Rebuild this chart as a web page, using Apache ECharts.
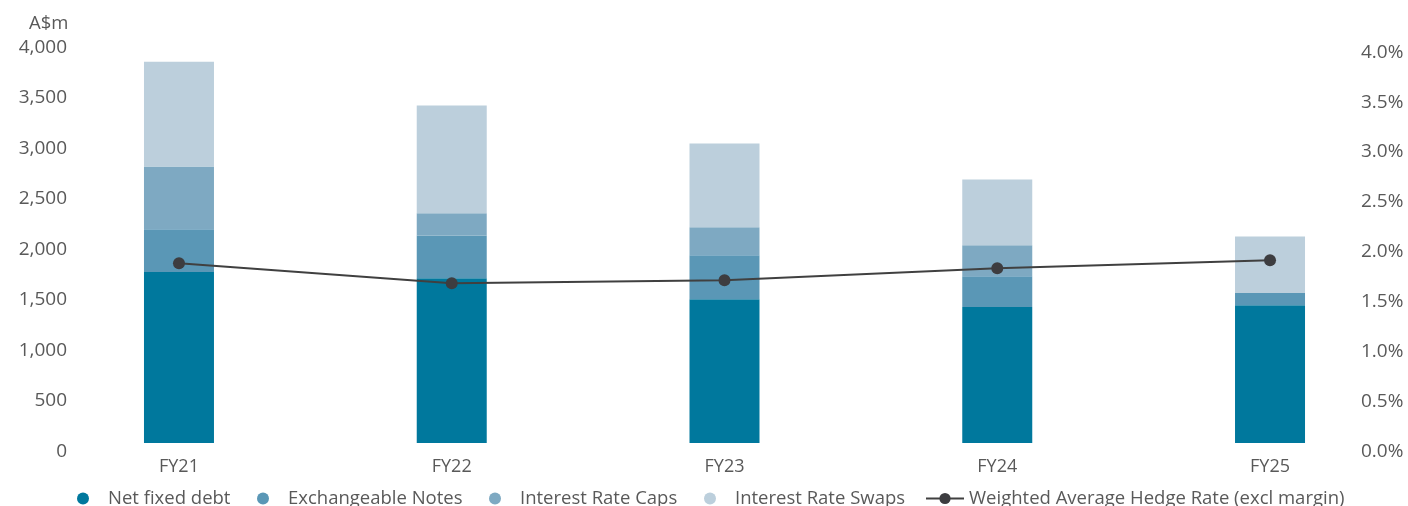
<!DOCTYPE html>
<html>
<head>
<meta charset="utf-8">
<script src="https://cdn.jsdelivr.net/npm/echarts@6/dist/echarts.min.js"></script>
<style>
html,body{margin:0;padding:0;background:#fff;}
#chart{width:1408px;height:506px;}
</style>
</head>
<body>
<div id="chart"></div>
<script>
const categories = ['FY21', 'FY22', 'FY23', 'FY24', 'FY25'];
const netFixedDebt = [1692, 1630, 1422, 1346, 1363];
const exchangeableNotes = [422, 424, 435, 303, 121];
const interestRateCaps = [622, 218, 277, 307, 0];
const interestRateSwaps = [1037, 1067, 830, 651, 560];
const hedgeRate = [1.80, 1.60, 1.63, 1.75, 1.83];
const leftTicks = [0, 4000, 500];
const rightTicks = [0, 4.05, 0.5];

const FONT = 'Open Sans';
const TXT = '#595959';
const colors = ['#00789d', '#5a97b6', '#7ea9c2', '#bccfdc', '#3d3d40'];

const chart = echarts.init(document.getElementById('chart'), null, {renderer: 'canvas'});

function legendFor(name, left, opts) {
  return Object.assign({
    data: [name],
    left: left,
    top: 489,
    icon: 'circle',
    itemWidth: 12,
    itemHeight: 12,
    padding: 0,
    textStyle: {fontFamily: FONT, fontSize: 18.5, color: TXT, padding: [0, 0, 0, 14]}
  }, opts || {});
}

const option = {
  animation: false,
  backgroundColor: '#fff',
  title: {
    text: 'A$m', left: 24, top: 9,
    textStyle: {fontFamily: FONT, fontSize: 18.5, fontWeight: 'normal', color: TXT}
  },
  grid: {left: 42.6, right: 1.6, top: 38.7, bottom: 63, containLabel: false},
  legend: [
    legendFor('Net fixed debt', 77),
    legendFor('Exchangeable Notes', 257),
    legendFor('Interest Rate Caps', 489),
    legendFor('Interest Rate Swaps', 704),
    legendFor('Weighted Average Hedge Rate (excl margin)', 925, {
      icon: null, itemWidth: 38, itemHeight: 14,
      textStyle: {fontFamily: FONT, fontSize: 18.5, color: TXT, padding: [0, 0, 0, 0]}
    })
  ],
  xAxis: {
    type: 'category',
    data: categories,
    axisLine: {show: false},
    axisTick: {show: false},
    axisLabel: {fontFamily: FONT, fontSize: 18, color: TXT, margin: 15}
  },
  yAxis: [
    {
      type: 'value',
      min: leftTicks[0], max: leftTicks[1], interval: leftTicks[2],
      offset: -24.4,
      splitLine: {show: false},
      axisLine: {show: false},
      axisTick: {show: false},
      axisLabel: {
        fontFamily: FONT, fontSize: 19, color: TXT, margin: 0,
        verticalAlign: 'top', lineHeight: 17,
        formatter: v => v.toLocaleString('en-US')
      }
    },
    {
      type: 'value',
      position: 'right',
      min: rightTicks[0], max: rightTicks[1], interval: rightTicks[2],
      splitLine: {show: false},
      axisLine: {show: false},
      axisTick: {show: false},
      axisLabel: {
        inside: true, margin: 3,
        fontFamily: FONT, fontSize: 19, color: TXT,
        verticalAlign: 'top', lineHeight: 17,
        formatter: v => (Math.abs(v * 2 - Math.round(v * 2)) < 1e-6) ? v.toFixed(1) + '%' : ''
      }
    }
  ],
  series: [
    {name: 'Net fixed debt', type: 'bar', stack: 'a', barWidth: 70, data: netFixedDebt, itemStyle: {color: colors[0]}},
    {name: 'Exchangeable Notes', type: 'bar', stack: 'a', barWidth: 70, data: exchangeableNotes, itemStyle: {color: colors[1]}},
    {name: 'Interest Rate Caps', type: 'bar', stack: 'a', barWidth: 70, data: interestRateCaps, itemStyle: {color: colors[2]}},
    {name: 'Interest Rate Swaps', type: 'bar', stack: 'a', barWidth: 70, data: interestRateSwaps, itemStyle: {color: colors[3]}},
    {
      name: 'Weighted Average Hedge Rate (excl margin)', type: 'line', yAxisIndex: 1,
      data: hedgeRate, symbol: 'circle', symbolSize: 12, z: 5,
      lineStyle: {color: '#404040', width: 2},
      itemStyle: {color: colors[4]}
    }
  ]
};
chart.setOption(option);
</script>
</body>
</html>
